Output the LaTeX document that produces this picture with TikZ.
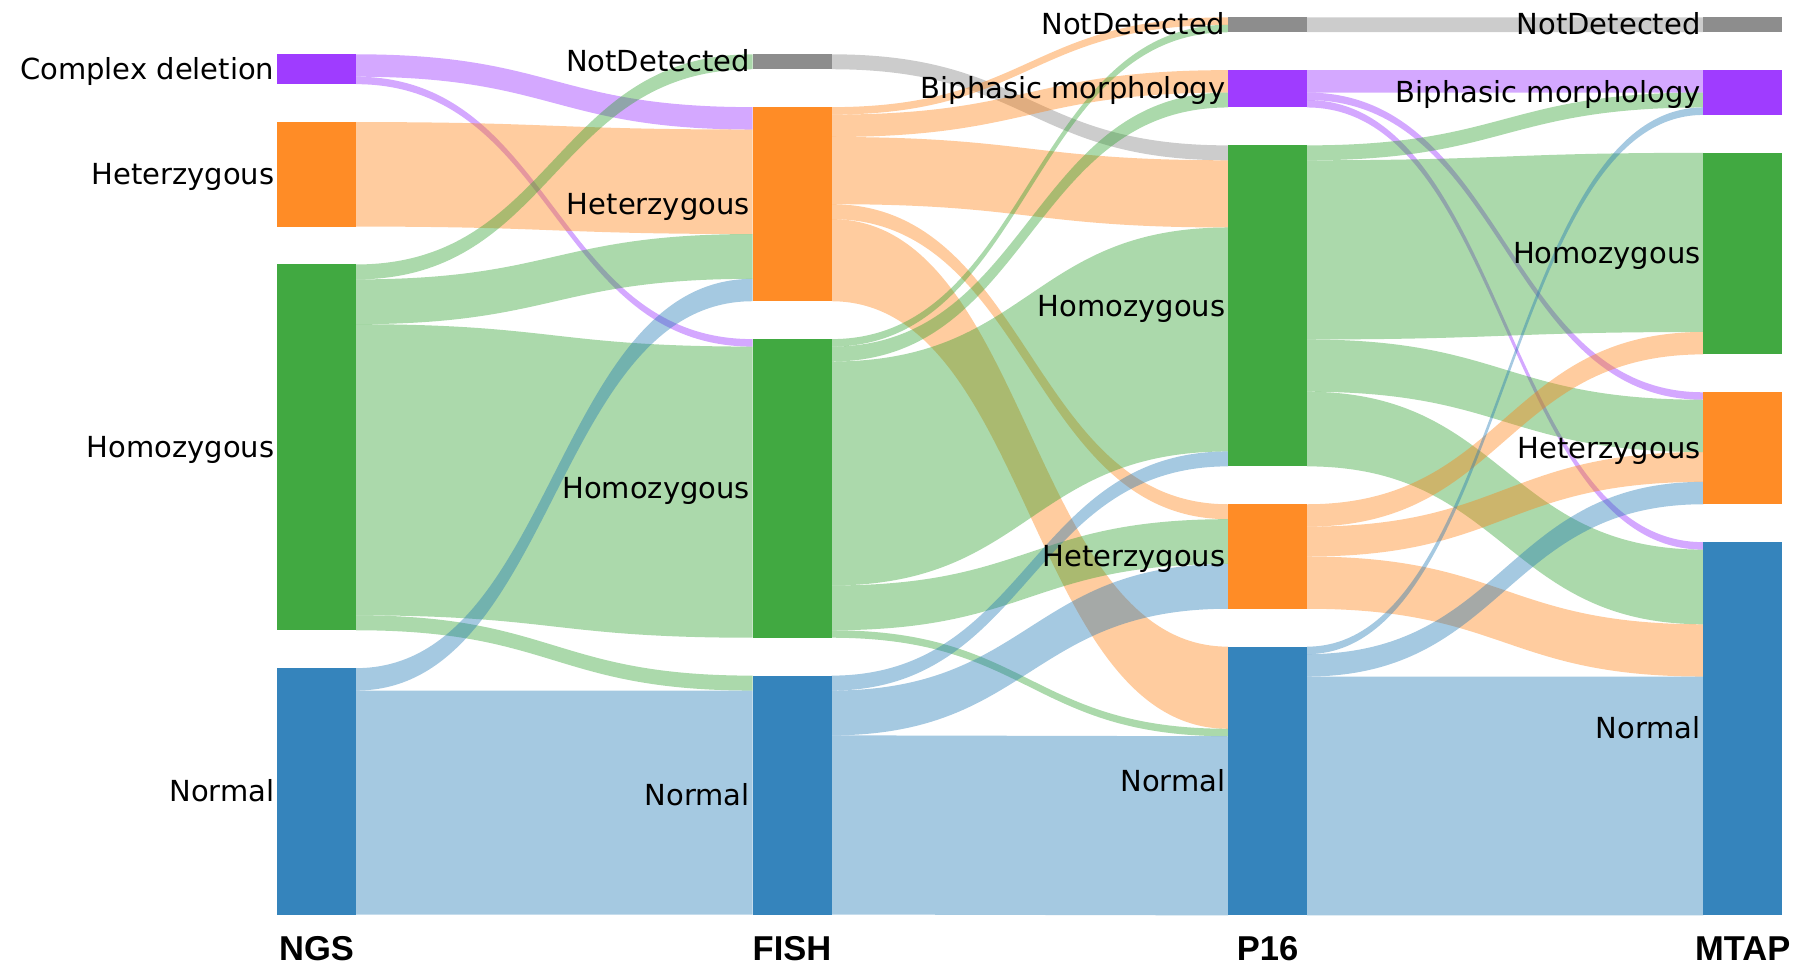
\documentclass[tikz,border=0pt]{standalone}
\usepackage{fontspec}
\newfontfamily\lblfont{DejaVu Sans}
\newfontfamily\axfont{Liberation Sans}
\usetikzlibrary{calc,backgrounds}
\definecolor{nPur}{RGB}{159,60,255}
\definecolor{nOra}{RGB}{255,140,38}
\definecolor{nGre}{RGB}{65,169,65}
\definecolor{nBlu}{RGB}{53,132,188}
\definecolor{nGra}{RGB}{141,141,141}
\definecolor{lPur}{RGB}{148,38,255}
\definecolor{lOra}{RGB}{255,127,14}
\definecolor{lGre}{RGB}{44,160,44}
\definecolor{lBlu}{RGB}{31,119,180}
\definecolor{lGra}{RGB}{128,128,128}
\def\unitpx{7.465}
\def\halfgap{198.2}
\newcommand{\flow}[6]{%
  \fill[#6, fill opacity=0.4]
  ($(#1.north east)+(0,{#2*\unitpx})$) .. controls +(\halfgap,0) and +(-\halfgap,0) ..
  ($(#3.north west)+(0,{#4*\unitpx})$) -- ++(0,{#5*\unitpx})
  .. controls +(-\halfgap,0) and +(\halfgap,0) ..
  ($(#1.north east)+(0,{(#2+#5)*\unitpx})$) -- cycle;}
\tikzset{
  nb/.style={rectangle, inner sep=0pt, outer sep=0pt, minimum width=79pt, anchor=north west, draw=none},
  hh/.style={minimum height={#1*\unitpx*1pt}},
  lbl/.style={font=\lblfont\fontsize{29}{34}\selectfont, anchor=base east, inner sep=0pt, text=black},
  ax/.style={font=\axfont\bfseries\fontsize{34.5}{40}\selectfont, anchor=base, inner sep=0pt, text=black}
}
\begin{document}
\begin{tikzpicture}[x=1pt,y=-1pt]
\useasboundingbox (0,0) rectangle (1802,970);
% NGS
\node[nb,hh=4,fill=nPur]  (ngsCD)   at (277,54.3) {};
\node[nb,hh=14,fill=nOra] (ngsHet)  at (277,122.06) {};
\node[nb,hh=49,fill=nGre] (ngsHom)  at (277,264.47) {};
\node[nb,hh=33,fill=nBlu] (ngsNorm) at (277,668.15) {};
% FISH
\node[nb,hh=2,fill=nGra]  (fiND)   at (752.5,54.3) {};
\node[nb,hh=26,fill=nOra] (fiHet)  at (752.5,107.13) {};
\node[nb,hh=40,fill=nGre] (fiHom)  at (752.5,339.12) {};
\node[nb,hh=32,fill=nBlu] (fiNorm) at (752.5,675.62) {};
% P16
\node[nb,hh=2,fill=nGra]  (pND)   at (1228,17.3) {};
\node[nb,hh=5,fill=nPur]  (pBi)   at (1228,70.13) {};
\node[nb,hh=43,fill=nGre] (pHom)  at (1228,145.36) {};
\node[nb,hh=14,fill=nOra] (pHet)  at (1228,504.25) {};
\node[nb,hh=36,fill=nBlu] (pNorm) at (1228,646.66) {};
% MTAP
\node[nb,hh=2,fill=nGra]  (mND)   at (1703.3,17.3) {};
\node[nb,hh=6,fill=nPur]  (mBi)   at (1703.3,70.13) {};
\node[nb,hh=27,fill=nGre] (mHom)  at (1703.3,152.82) {};
\node[nb,hh=15,fill=nOra] (mHet)  at (1703.3,392.28) {};
\node[nb,hh=50,fill=nBlu] (mNorm) at (1703.3,542.16) {};

\begin{pgfonlayer}{background}
% NGS -> FISH
\flow{ngsCD}{0}{fiHet}{0}{3}{lPur}
\flow{ngsCD}{3}{fiHom}{0}{1}{lPur}
\flow{ngsHet}{0}{fiHet}{3}{14}{lOra}
\flow{ngsHom}{0}{fiND}{0}{2}{lGre}
\flow{ngsHom}{2}{fiHet}{17}{6}{lGre}
\flow{ngsHom}{8}{fiHom}{1}{39}{lGre}
\flow{ngsHom}{47}{fiNorm}{0}{2}{lGre}
\flow{ngsNorm}{0}{fiHet}{23}{3}{lBlu}
\flow{ngsNorm}{3}{fiNorm}{2}{30}{lBlu}
% FISH -> P16
\flow{fiND}{0}{pHom}{0}{2}{lGra}
\flow{fiHet}{0}{pND}{0}{1}{lOra}
\flow{fiHet}{1}{pBi}{0}{3}{lOra}
\flow{fiHet}{4}{pHom}{2}{9}{lOra}
\flow{fiHet}{13}{pHet}{0}{2}{lOra}
\flow{fiHet}{15}{pNorm}{0}{11}{lOra}
\flow{fiHom}{0}{pND}{1}{1}{lGre}
\flow{fiHom}{1}{pBi}{3}{2}{lGre}
\flow{fiHom}{3}{pHom}{11}{30}{lGre}
\flow{fiHom}{33}{pHet}{2}{6}{lGre}
\flow{fiHom}{39}{pNorm}{11}{1}{lGre}
\flow{fiNorm}{0}{pHom}{41}{2}{lBlu}
\flow{fiNorm}{2}{pHet}{8}{6}{lBlu}
\flow{fiNorm}{8}{pNorm}{12}{24}{lBlu}
% P16 -> MTAP
\flow{pND}{0}{mND}{0}{2}{lGra}
\flow{pBi}{0}{mBi}{0}{3}{lPur}
\flow{pBi}{3}{mHet}{0}{1}{lPur}
\flow{pBi}{4}{mNorm}{0}{1}{lPur}
\flow{pHom}{0}{mBi}{3}{2}{lGre}
\flow{pHom}{2}{mHom}{0}{24}{lGre}
\flow{pHom}{26}{mHet}{1}{7}{lGre}
\flow{pHom}{33}{mNorm}{1}{10}{lGre}
\flow{pHet}{0}{mHom}{24}{3}{lOra}
\flow{pHet}{3}{mHet}{8}{4}{lOra}
\flow{pHet}{7}{mNorm}{11}{7}{lOra}
\flow{pNorm}{0}{mBi}{5}{1}{lBlu}
\flow{pNorm}{1}{mHet}{12}{3}{lBlu}
\flow{pNorm}{4}{mNorm}{18}{32}{lBlu}
\end{pgfonlayer}

% node labels
\node[lbl] (tNgsCD)   at ($(ngsCD.west)+(-2.5,10.2)$) {Complex deletion};
\node[lbl] (tNgsHet)  at ($(ngsHet.west)+(-2.5,10.2)$) {Heterzygous};
\node[lbl] (tNgsHom)  at ($(ngsHom.west)+(-2.5,10.2)$) {Homozygous};
\node[lbl] (tNgsNorm) at ($(ngsNorm.west)+(-2.5,10.2)$) {Normal};
\node[lbl] (tFiND)   at ($(fiND.west)+(-2.5,10.2)$) {NotDetected};
\node[lbl] (tFiHet)  at ($(fiHet.west)+(-2.5,10.2)$) {Heterzygous};
\node[lbl] (tFiHom)  at ($(fiHom.west)+(-2.5,10.2)$) {Homozygous};
\node[lbl] (tFiNorm) at ($(fiNorm.west)+(-2.5,10.2)$) {Normal};
\node[lbl] (tPND)   at ($(pND.west)+(-2.5,10.2)$) {NotDetected};
\node[lbl] (tPBi)   at ($(pBi.west)+(-2.5,10.2)$) {Biphasic morphology};
\node[lbl] (tPHom)  at ($(pHom.west)+(-2.5,10.2)$) {Homozygous};
\node[lbl] (tPHet)  at ($(pHet.west)+(-2.5,10.2)$) {Heterzygous};
\node[lbl] (tPNorm) at ($(pNorm.west)+(-2.5,10.2)$) {Normal};
\node[lbl] (tMND)   at ($(mND.west)+(-2.5,10.2)$) {NotDetected};
\node[lbl] (tMBi)   at ($(mBi.west)+(-2.5,10.2)$) {Biphasic morphology};
\node[lbl] (tMHom)  at ($(mHom.west)+(-2.5,10.2)$) {Homozygous};
\node[lbl] (tMHet)  at ($(mHet.west)+(-2.5,10.2)$) {Heterzygous};
\node[lbl] (tMNorm) at ($(mNorm.west)+(-2.5,10.2)$) {Normal};

% axis labels
\node[ax] (axNGS)  at ($(ngsNorm.south)+(0,45.5)$) {NGS};
\node[ax] (axFISH) at ($(fiNorm.south)+(0,45.5)$) {FISH};
\node[ax] (axP16)  at ($(pNorm.south)+(0,45.5)$) {P16};
\node[ax] (axMTAP) at ($(mNorm.south)+(0,45.5)$) {MTAP};
\end{tikzpicture}
\end{document}
